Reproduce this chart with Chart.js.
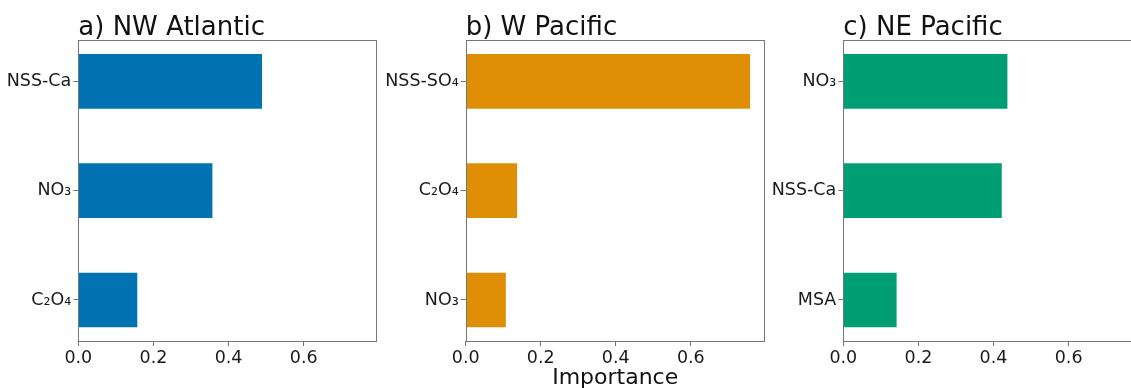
<!DOCTYPE html>
<html>
<head>
<meta charset="utf-8">
<script src="https://cdn.jsdelivr.net/npm/chart.js@4"></script>
<style>
  html, body { margin: 0; padding: 0; background: #fff; overflow: hidden; width: 1131px; height: 388px; }
  .panel { position: absolute; top: 0; }
</style>
</head>
<body>
<div class="panel" style="left:0px"><canvas id="cA" width="385" height="388"></canvas></div>
<div class="panel" style="left:385px"><canvas id="cB" width="385" height="388"></canvas></div>
<div class="panel" style="left:770px"><canvas id="cC" width="385" height="388"></canvas></div>
<script>
// ---- data ----
const panelTitles = ['a) NW Atlantic', 'b) W Pacific', 'c) NE Pacific'];
const xAxisLabel = 'Importance';
const xTicks = [0.0, 0.2, 0.4, 0.6];
const xMax = 0.797;

const catsA = ['NSS-Ca', 'NO\u2083', 'C\u2082O\u2084'];
const valsA = [0.489, 0.357, 0.157];

const catsB = ['NSS-SO\u2084', 'C\u2082O\u2084', 'NO\u2083'];
const valsB = [0.758, 0.137, 0.107];

const catsC = ['NO\u2083', 'NSS-Ca', 'MSA'];
const valsC = [0.437, 0.422, 0.142];

const colors = ['#0173B2', '#DE8F05', '#029E73'];

// ---- drawing ----
const FONT = "'DejaVu Sans', sans-serif";
const AXIS = '#777777';

function makeChart(id, cats, vals, color, title, yWidth, padRight, xlabel) {
  const deco = {
    id: 'deco' + id,
    afterDraw(chart) {
      const ctx = chart.ctx, a = chart.chartArea;
      ctx.save();
      ctx.strokeStyle = AXIS;
      ctx.lineWidth = 1;
      ctx.strokeRect(Math.round(a.left) + 0.5, Math.round(a.top) + 0.5,
                     Math.round(a.right - a.left) - 1, Math.round(a.bottom - a.top));
      ctx.fillStyle = '#111';
      ctx.textBaseline = 'alphabetic';
      ctx.textAlign = 'left';
      ctx.font = '26px ' + FONT;
      ctx.fillText(title, a.left, 35);
      if (xlabel) {
        ctx.textAlign = 'center';
        ctx.font = '22px ' + FONT;
        ctx.fillText(xlabel, (a.left + a.right) / 2, 384);
      }
      ctx.restore();
    }
  };
  return new Chart(document.getElementById(id), {
    type: 'bar',
    data: {
      datasets: [{
        data: vals.map((v, i) => ({ x: v, y: i })),
        backgroundColor: color,
        borderWidth: 0,
        barPercentage: 0.5,
        categoryPercentage: 1.0
      }]
    },
    options: {
      indexAxis: 'y',
      responsive: false,
      animation: false,
      devicePixelRatio: 1,
      layout: { padding: { top: 40.3, right: padRight, bottom: 0, left: 0 } },
      plugins: { legend: { display: false }, tooltip: { enabled: false }, title: { display: false } },
      scales: {
        x: {
          type: 'linear',
          min: 0,
          max: xMax,
          offset: false,
          afterBuildTicks: s => { s.ticks = xTicks.map(v => ({ value: v })); },
          afterFit: s => { s.height = 47; },
          grid: { offset: false, drawOnChartArea: false, drawTicks: true, tickLength: 5, color: AXIS },
          border: { display: false },
          ticks: {
            callback: v => Number(v).toFixed(1),
            font: { family: FONT, size: 17.5 },
            color: '#1a1a1a',
            padding: 2,
            maxRotation: 0
          }
        },
        y: {
          type: 'linear',
          min: -0.375,
          max: 2.375,
          reverse: true,
          offset: false,
          afterBuildTicks: s => { s.ticks = cats.map((c, i) => ({ value: i })); },
          afterFit: s => { s.width = yWidth; },
          grid: { offset: false, drawOnChartArea: false, drawTicks: true, tickLength: 5, color: AXIS },
          border: { display: false },
          ticks: {
            callback: v => cats[v],
            font: { family: FONT, size: 17.5 },
            color: '#1a1a1a',
            padding: 2
          }
        }
      }
    },
    plugins: [deco]
  });
}

makeChart('cA', catsA, valsA, colors[0], panelTitles[0], 78.3, 7.3, null);
makeChart('cB', catsB, valsB, colors[1], panelTitles[1], 80.7, 5.3, xAxisLabel);
makeChart('cC', catsC, valsC, colors[2], panelTitles[2], 73.3, 12.4, null);
</script>
</body>
</html>
